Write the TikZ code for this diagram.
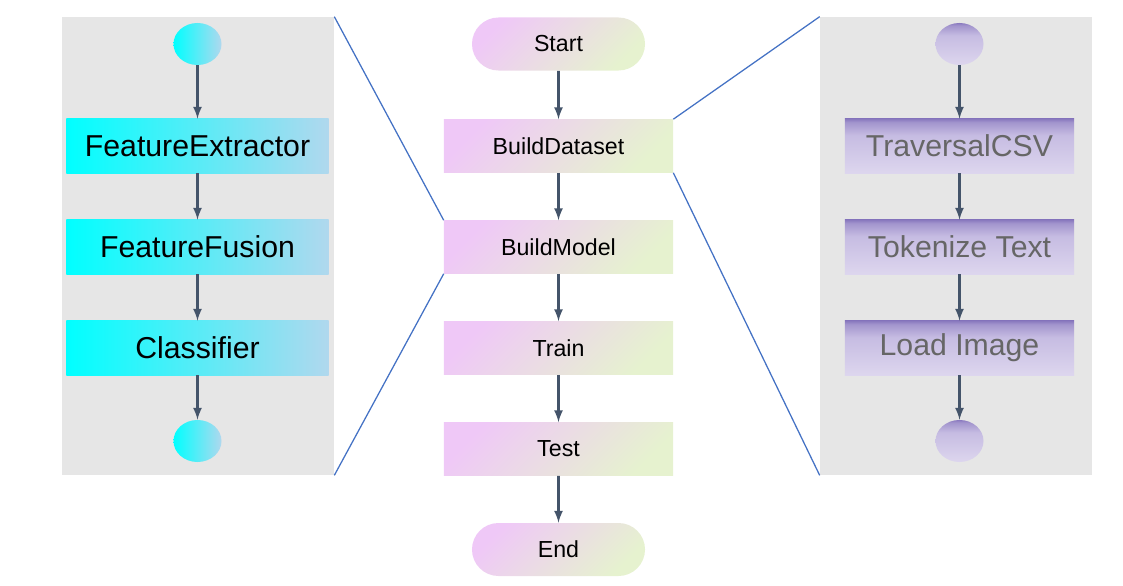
\documentclass[tikz,border=0pt]{standalone}
\usepackage{fontspec}
\setmainfont{Liberation Sans}
\usepackage{xcolor}
\usetikzlibrary{shapes,arrows,positioning,calc}

\definecolor{panelgray}{HTML}{E6E6E6}
\definecolor{cyanL}{HTML}{00FFFF}
\definecolor{cyanM}{HTML}{8FF3F8}
\definecolor{cyanR}{HTML}{B0D8EE}
\definecolor{pinkTL}{HTML}{EFC8F7}
\definecolor{midG}{HTML}{E8E2E8}
\definecolor{greenBR}{HTML}{E6F2CF}
\definecolor{purpT}{HTML}{8A7ABF}
\definecolor{purpM}{HTML}{C6BCE2}
\definecolor{purpB}{HTML}{DDD6EE}
\definecolor{greytext}{HTML}{666666}
\definecolor{arrowc}{HTML}{44546A}
\definecolor{zoomblue}{HTML}{4472C4}

% dark only at the very top, then light lavender
\pgfdeclareverticalshading{lavender}{100bp}{color(0bp)=(purpB); color(25bp)=(purpB); color(60bp)=(purpM); color(72bp)=(purpT!60!purpM); color(75bp)=(purpT); color(100bp)=(purpT)}

\begin{document}
\begin{tikzpicture}[x=0.025cm, y=-0.025cm,
    panel/.style={rectangle, fill=panelgray, minimum width=6.8cm, minimum height=11.45cm, inner sep=0pt},
    cbox/.style={rectangle, left color=cyanL, middle color=cyanM, right color=cyanR, minimum width=6.55cm, minimum height=1.35cm, inner sep=0pt, font=\fontsize{21.5}{26}\selectfont},
    cdot/.style={ellipse, left color=cyanL, middle color=cyanM, right color=cyanR, minimum width=1.2cm, minimum height=1.05cm, inner sep=0pt},
    mbox/.style={rectangle, top color=pinkTL, middle color=midG, bottom color=greenBR, shading angle=45, minimum width=5.725cm, minimum height=1.325cm, inner sep=0pt, font=\fontsize{16.5}{20}\selectfont},
    mpill/.style={mbox, rounded rectangle, minimum width=4.325cm},
    pbox/.style={rectangle, shading=lavender, minimum width=5.725cm, minimum height=1.35cm, inner sep=0pt, text=greytext, font=\fontsize{21.5}{26}\selectfont},
    pdot/.style={ellipse, shading=lavender, minimum width=1.2cm, minimum height=1.05cm, inner sep=0pt},
    arrow/.style={-latex, draw=arrowc, line width=1.9pt},
    zoomline/.style={draw=zoomblue, line width=0.9pt}
]
    \useasboundingbox (0,0) rectangle (1123,585);

    % side panels
    \node[panel] (lpanel) at (198,246) {};
    \node[panel] (rpanel) at (956,246) {};

    % main flow
    \node[mpill] (start) at (558.5,44) {Start};
    \node[mbox] (dataset) at (558.5,146) {BuildDataset};
    \node[mbox] (model) at (558.5,247) {BuildModel};
    \node[mbox] (train) at (558.5,348) {Train};
    \node[mbox] (test) at (558.5,449) {Test};
    \node[mpill] (end) at (558.5,549.5) {End};
    \draw[arrow] (start) -- (dataset);
    \draw[arrow] (dataset) -- (model);
    \draw[arrow] (model) -- (train);
    \draw[arrow] (train) -- (test);
    \draw[arrow] (test) -- (end);

    % model detail
    \node[cdot] (lin) at (197.5,44) {};
    \node[cbox] (extract) at (197.5,146) {FeatureExtractor};
    \node[cbox] (fusion) at (197.5,247) {FeatureFusion};
    \node[cbox] (classify) at (197.5,348) {Classifier};
    \node[cdot] (lout) at (197.5,441) {};
    \draw[arrow] (lin) -- (extract);
    \draw[arrow] (extract) -- (fusion);
    \draw[arrow] (fusion) -- (classify);
    \draw[arrow] (classify) -- (lout);

    % dataset detail
    \node[pdot] (rin) at (959.5,44) {};
    \node[pbox] (csv) at (959.5,146) {TraversalCSV};
    \node[pbox] (token) at (959.5,247) {Tokenize Text};
    \node[pbox] (image) at (959.5,348) {Load Image};
    \node[pdot] (rout) at (959.5,441) {};
    \draw[arrow] (rin) -- (csv);
    \draw[arrow] (csv) -- (token);
    \draw[arrow] (token) -- (image);
    \draw[arrow] (image) -- (rout);

    % zoom lines
    \draw[zoomline] (lpanel.north east) -- (model.north west);
    \draw[zoomline] (lpanel.south east) -- (model.south west);
    \draw[zoomline] (dataset.north east) -- (rpanel.north west);
    \draw[zoomline] (dataset.south east) -- (rpanel.south west);
\end{tikzpicture}
\end{document}
